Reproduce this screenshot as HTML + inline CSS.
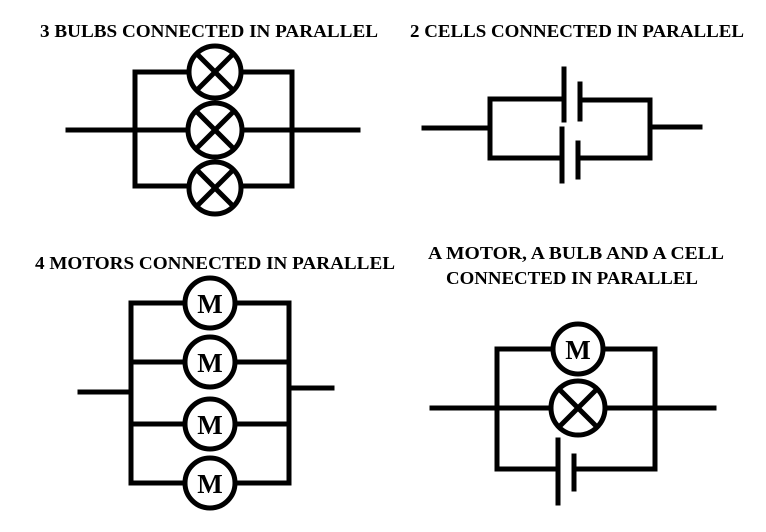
<!DOCTYPE html>
<html><head><style>body{margin:0;background:#fff}svg{display:block}</style></head><body>
<svg width="766" height="532" viewBox="0 0 766 532" xmlns="http://www.w3.org/2000/svg">
<g font-family="Liberation Serif, serif" font-weight="bold" font-size="18" fill="#000">
<text x="40" y="37" textLength="338" lengthAdjust="spacingAndGlyphs">3 BULBS CONNECTED IN PARALLEL</text>
<text x="410" y="37" textLength="334" lengthAdjust="spacingAndGlyphs">2 CELLS CONNECTED IN PARALLEL</text>
<text x="35" y="269" textLength="360" lengthAdjust="spacingAndGlyphs">4 MOTORS CONNECTED IN PARALLEL</text>
<text x="428" y="259" textLength="296" lengthAdjust="spacingAndGlyphs">A MOTOR, A BULB AND A CELL</text>
<text x="446" y="284" textLength="252" lengthAdjust="spacingAndGlyphs">CONNECTED IN PARALLEL</text>
</g>
<g stroke="#000" stroke-width="5" fill="none" stroke-linecap="square">
<!-- bulbs -->
<polyline points="188,72 135,72 135,186 188,186"/>
<polyline points="242,72 292,72 292,186 242,186"/>
<line x1="68" y1="130" x2="188" y2="130"/><line x1="242" y1="130" x2="358" y2="130"/>
<g id="b1"><circle cx="215" cy="72" r="26" fill="#fff"/><line x1="197" y1="54" x2="233" y2="90"/><line x1="233" y1="54" x2="197" y2="90"/></g>
<circle cx="215" cy="130" r="27" fill="#fff"/><line x1="196" y1="111" x2="234" y2="149"/><line x1="234" y1="111" x2="196" y2="149"/>
<circle cx="215" cy="188" r="26" fill="#fff"/><line x1="197" y1="170" x2="233" y2="206"/><line x1="233" y1="170" x2="197" y2="206"/>
<!-- cells -->
<polyline points="564,99 490,99 490,158 562,158"/>
<polyline points="580,100 650,100 650,158 578,158"/>
<line x1="424" y1="128" x2="490" y2="128"/><line x1="650" y1="127" x2="700" y2="127"/>
<line x1="564" y1="69" x2="564" y2="120"/><line x1="580" y1="84" x2="580" y2="119"/>
<line x1="562" y1="129" x2="562" y2="181"/><line x1="578" y1="143" x2="578" y2="177"/>
<!-- motors -->
<polyline points="185,303 131,303 131,483 185,483"/>
<polyline points="235,303 289,303 289,483 235,483"/>
<line x1="131" y1="362" x2="185" y2="362"/><line x1="235" y1="362" x2="289" y2="362"/>
<line x1="131" y1="424" x2="185" y2="424"/><line x1="235" y1="424" x2="289" y2="424"/>
<line x1="80" y1="392" x2="126" y2="392"/><line x1="292" y1="388" x2="332" y2="388"/>
<circle cx="210" cy="303" r="25" fill="#fff"/><circle cx="210" cy="362" r="25" fill="#fff"/>
<circle cx="210" cy="424" r="25" fill="#fff"/><circle cx="210" cy="483" r="25" fill="#fff"/>
<!-- motor bulb cell -->
<polyline points="553,349 497,349 497,469 558,469"/>
<polyline points="603,349 655,349 655,469 574,469"/>
<line x1="432" y1="408" x2="551" y2="408"/><line x1="605" y1="408" x2="714" y2="408"/>
<circle cx="578" cy="349" r="25" fill="#fff"/>
<circle cx="578" cy="408" r="27" fill="#fff"/><line x1="559" y1="389" x2="597" y2="427"/><line x1="597" y1="389" x2="559" y2="427"/>
<line x1="558" y1="440" x2="558" y2="503"/><line x1="574" y1="456" x2="574" y2="489"/>
</g>
<g font-family="Liberation Serif, serif" font-weight="bold" font-size="27" fill="#000" text-anchor="middle">
<text x="210" y="313">M</text><text x="210" y="372">M</text><text x="210" y="434">M</text><text x="210" y="493">M</text>
<text x="578" y="359">M</text>
</g>
</svg>
</body></html>
